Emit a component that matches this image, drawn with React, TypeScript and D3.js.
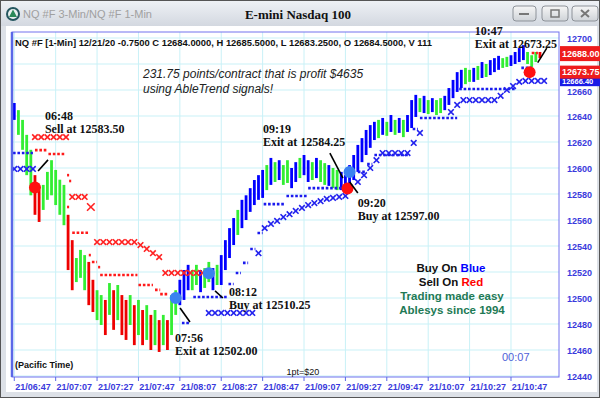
import React from 'react';
import * as d3 from 'd3';

// 2-minute samples of the 1-min bars, minutes counted from 06:47
const barStart = -9;
const barStep = 2;
const barHigh = [
  12650, 12644.5, 12637, 12625.5, 12614, 12594.5, 12583, 12587, 12597, 12606,
  12598.5, 12591, 12587, 12564, 12544.5, 12530.75, 12537, 12533, 12527.75, 12514,
  12506, 12502.25, 12498.5, 12511.5, 12506, 12510, 12502.25, 12498.5, 12502.25, 12494.5,
  12498.5, 12490.75, 12494.5, 12487, 12490.75, 12483, 12487, 12483, 12502.25, 12506,
  12514, 12521.5, 12525.5, 12521.5, 12525.5, 12521.5, 12523, 12527.75, 12523, 12525.5,
  12533, 12544.5, 12553.75, 12561.5, 12567.75, 12575.5, 12579, 12584.5, 12590.75, 12594.5,
  12598.5, 12602.25, 12607.75, 12604.5, 12606, 12602.25, 12606, 12600, 12604.5, 12607.75,
  12610, 12606, 12604.5, 12607.75, 12606, 12603.75, 12602.25, 12600, 12598.5, 12597,
  12594.5, 12602.25, 12610, 12617.75, 12623, 12629.25, 12633, 12635.5, 12637, 12638.5,
  12635.5, 12640.75, 12637, 12638.5, 12637, 12640.75, 12652.25, 12656.25, 12653.75, 12655.5,
  12652.25, 12653.75, 12652.25, 12653.75, 12655.5, 12661.5, 12667.75, 12673.75, 12675.5, 12677,
  12675.5, 12677, 12678.5, 12681.5, 12680, 12683, 12684.5, 12686.25, 12684.5, 12685.5,
  12686.75, 12689.25, 12692.25, 12694.5, 12689.25, 12686.75, 12689.25, 12689.25,
];
const barLow = [
  12637, 12625.5, 12614, 12594.5, 12579, 12564, 12558.5, 12567.75, 12575.5, 12579,
  12571.5, 12564, 12556, 12521.5, 12506, 12512.25, 12515.5, 12506, 12494.5, 12489.25,
  12483, 12479.25, 12471.5, 12487, 12475.5, 12483, 12471.5, 12467.75, 12479.25, 12463.75,
  12471.5, 12463.75, 12467.75, 12460, 12463.75, 12458.5, 12463.75, 12460, 12471.5, 12487,
  12494.5, 12498.5, 12506, 12506, 12510, 12504.5, 12507.75, 12512.25, 12506, 12510,
  12510, 12521.5, 12530.75, 12540.75, 12548.5, 12553.75, 12560, 12566.25, 12571.5, 12575.5,
  12577, 12583, 12587, 12589.25, 12590.75, 12587, 12588.5, 12584.5, 12589.25, 12592.25,
  12594.5, 12589.25, 12590.75, 12592.25, 12589.25, 12587, 12586.25, 12584.5, 12583, 12583,
  12581.5, 12583, 12590.75, 12597, 12604.5, 12610, 12615.5, 12621.5, 12623, 12625.5,
  12624.75, 12627.75, 12625.5, 12627, 12623.75, 12627.75, 12630.75, 12639.25, 12643, 12642.25,
  12641.5, 12643, 12640.75, 12642.25, 12644.5, 12648.5, 12653.75, 12658.5, 12661.5, 12664.5,
  12666.25, 12666.25, 12667.75, 12669.25, 12670, 12671.5, 12673.75, 12675.5, 12677, 12677.75,
  12678.5, 12680, 12681.5, 12683, 12680, 12677.75, 12681.5, 12684.5,
];
// b = blue (up trend), g = green (pause), r = red (down trend)
const barColor = [
  'b', 'gggg', 'rr', 'gggggg', 'rr', 'ggg', 'rr', 'gg', 'r', 'g', 'r', 'g', 'rr', 'g', 'r', 'g',
  'r', 'g', 'r', 'g', 'r', 'g', 'r', 'gg', 'bbb', 'gg', 'b', 'gg', 'b', 'g', 'bbbb', 'g', 'bbbbbb',
  'g', 'b', 'g', 'b', 'gg', 'bb', 'g', 'bb', 'g', 'b', 'gg', 'b', 'gg', 'bbbbbbbbb', 'g', 'b', 'g',
  'b', 'g', 'b', 'g', 'bbb', 'g', 'b', 'g', 'b', 'gg', 'bbbbb', 'gg', 'b', 'g', 'b', 'g', 'bbb',
  'gg', 'bbbb', 'ggg', 'r',
].join('');

// stop lines: [from minute, to minute, price]
const redStops = [
  [1, 7, 12613.75], [7.5, 15.5, 12610.75], [16.5, 17.5, 12594.5], [17.5, 18.5, 12590],
  [16.5, 17.5, 12570], [19, 27.5, 12550.25], [27, 28, 12533], [28.5, 31, 12527.75],
  [31.5, 32.5, 12523.75], [32.5, 50.5, 12517.75], [51, 58, 12510], [59, 61.5, 12506.25],
  [61.5, 65, 12503], [241, 244, 12688.5],
];
const blueStops = [
  [-9.6, 0, 12611.5], [72, 76, 12480.75], [77.5, 94, 12500.75], [94.5, 97, 12510.75],
  [98, 100.5, 12519.25], [101.5, 104, 12527], [105, 107.5, 12537.75], [108.5, 111, 12550],
  [111.5, 122, 12572.25], [122.5, 132.5, 12578.5], [133, 151, 12584.5], [157, 161, 12597],
  [161.5, 164, 12603], [165, 182, 12610], [183.5, 186, 12630], [187, 205, 12638.5],
  [206, 233, 12660.75], [236, 241, 12677],
];
// 3-min trailing stops: [minute, price]
const redX = [
  [1, 12623.75], [4, 12623.75], [7, 12623.75], [10, 12623.75], [13, 12623.75], [16, 12623.75],
  [19, 12577.75], [22, 12577.75], [25, 12577.75], [28, 12570],
  [31, 12543], [34, 12543], [37, 12543], [40, 12543], [43, 12543], [46, 12543], [49, 12543],
  [52, 12540.75], [55, 12537.75], [58, 12534.5], [61, 12531.5],
  [64, 12519.25], [67, 12519.25], [70, 12519.25], [73, 12519.25], [76, 12519.25], [79, 12519.25], [82, 12519.25],
];
const blueX = [
  [-9, 12599.25], [-6, 12599.25], [-3, 12599.25], [0, 12599.25],
  [85, 12488.5], [88, 12488.5], [91, 12488.5], [94, 12488.5], [97, 12488.5], [100, 12488.5], [103, 12488.5], [106, 12488.5],
  [109, 12534.5], [112, 12553.75], [115, 12557], [118, 12559.25], [121, 12562.25], [124, 12564.5],
  [127, 12567], [130, 12569.25], [133, 12571.5], [136, 12573], [139, 12574.5], [142, 12576.25],
  [145, 12577], [148, 12577.75], [151, 12578.5],
  [157, 12589.25], [160, 12594.5], [163, 12600], [166, 12606],
  [169, 12611.5], [172, 12611.5], [175, 12611.5], [178, 12611.5], [181, 12611.5], [184, 12619.25], [187, 12627],
  [202, 12643], [205, 12648.5], [208, 12652.25], [211, 12652.25], [214, 12652.25], [217, 12652.25],
  [220, 12652.25], [223, 12652.25], [226, 12655.5], [229, 12660], [232, 12663], [235, 12666.25],
  [238, 12667], [241, 12667], [244, 12667], [247, 12667],
];
const sellDots = [[1, 12585], [152, 12584.25], [240, 12673.75]];
const buyDots = [[69, 12500], [85, 12519], [153, 12597]];

const timeTicks = [0, 20, 40, 60, 80, 100, 120, 140, 160, 180, 200, 220, 240];
const timeLabels = [
  '21/06:47', '21/07:07', '21/07:27', '21/07:47', '21/08:07', '21/08:27', '21/08:47',
  '21/09:07', '21/09:27', '21/09:47', '21/10:07', '21/10:27', '21/10:47',
];
const priceTicks = [12440, 12460, 12480, 12500, 12520, 12540, 12560, 12580, 12600, 12620, 12640, 12660, 12680, 12700];
// labels hidden behind the price tags
const hiddenLabels = [12680];

const notes = [
  { time: '06:48', label: 'Sell at 12583.50', at: [5.8, 12637], line: [[7.3, 12606.25], [2.5, 12597.75]] },
  { time: '07:56', label: 'Exit at 12502.00', at: [68.7, 12466], line: [[71.1, 12492.25], [75.9, 12481.5]] },
  { time: '08:12', label: 'Buy at 12510.25', at: [94.7, 12501.5], line: [[88, 12505.5], [91.8, 12500]] },
  { time: '09:19', label: 'Exit at 12584.25', at: [111.2, 12627], line: [[143.5, 12611.5], [149.8, 12592.25]] },
  { time: '09:20', label: 'Buy at 12597.00', at: [157, 12570], line: [[153.1, 12589.25], [157, 12580.75]] },
  { time: '10:47', label: 'Exit at 12673.25', at: [213.5, 12702.25], line: [[243.9, 12681], [248.3, 12692.25]] },
];

const priceTags = [
  { price: 12666.4, text: '12666.40', fill: '#1a1ae6', h: 9, fs: 7.5 },
  { price: 12688, text: '12688.00', fill: '#ee1c1c', h: 15, fs: 9 },
  { price: 12673.75, text: '12673.75', fill: '#ee1c1c', h: 13, fs: 9 },
];

const barFill = { b: '#0000ff', g: '#33ee33', r: '#ee0000' };
const sans = "'Liberation Sans', Arial, sans-serif";
const serif = "'Liberation Serif', 'Times New Roman', serif";

const cross = (cx, cy, s) => `M${cx - s},${cy - s}L${cx + s},${cy + s}M${cx + s},${cy - s}L${cx - s},${cy + s}`;

export default function App() {
  const x = d3.scaleLinear().domain([-10.1, 254.2]).range([12, 559]);
  const y = d3.scaleLinear().domain([12440, 12700]).range([376, 38]);
  const plot = { left: 12, top: 32, right: 559, bottom: 377 };

  return (
    <svg width={600} height={398} style={{ position: 'absolute', left: 0, top: 0 }}>
      <defs>
        <linearGradient id="ttl" x1="0" y1="0" x2="0" y2="1">
          <stop offset="0" stopColor="#eef1f5" />
          <stop offset="1" stopColor="#d3d8e0" />
        </linearGradient>
        <linearGradient id="btn" x1="0" y1="0" x2="0" y2="1">
          <stop offset="0" stopColor="#f6f6f6" />
          <stop offset="1" stopColor="#cfd3d8" />
        </linearGradient>
        <clipPath id="plotClip">
          <rect x={plot.left} y={plot.top} width={plot.right - plot.left} height={plot.bottom - plot.top} />
        </clipPath>
      </defs>

      {/* window chrome */}
      <rect x={0.5} y={0.5} width={599} height={397} fill="#dde1e7" stroke="#555" />
      <rect x={1} y={1} width={598} height={25} fill="url(#ttl)" />
      <rect x={6} y={26} width={591} height={366} fill="#fff" />
      <circle cx={13} cy={14} r={7} fill="#24565f" />
      <circle cx={13} cy={14} r={5} fill="#e8f0f0" />
      <path d="M13,9.5L17,17H9Z" fill="#2a8a5a" />
      <text x={23} y={18} fontFamily={sans} fontSize={11} fill="#a0a0a0">NQ #F 3-Min/NQ #F 1-Min</text>
      <text x={298} y={19} textAnchor="middle" fontFamily={serif} fontSize={13} fontWeight="bold" fill="#111">E-mini Nasdaq 100</text>
      {[[513, 23], [542, 26], [572, 26]].map(([bx, bw], i) => (
        <rect key={i} x={bx} y={6} width={bw} height={15} rx={3} fill="url(#btn)" stroke="#8d9299" />
      ))}
      <rect x={519} y={13} width={10} height={2} fill="#777" />
      <rect x={551} y={10} width={8} height={7} fill="none" stroke="#777" strokeWidth={1.5} />
      <path d="M581,10L589,17M589,10L581,17" stroke="#777" strokeWidth={2} />

      {/* grid */}
      {priceTicks.map(p => (
        <line key={p} x1={plot.left} x2={plot.right} y1={y(p)} y2={y(p)} stroke="#c9f1f7" />
      ))}
      {timeTicks.map(m => (
        <line key={m} x1={x(m - 9)} x2={x(m - 9)} y1={plot.top} y2={plot.bottom} stroke="#c9f1f7" />
      ))}

      <g clipPath="url(#plotClip)">
        {/* price bars */}
        {barHigh.map((hi, i) => {
          const cx = x(barStart + i * barStep);
          return (
            <rect key={i} x={cx - 1.4} width={2.8} y={y(hi)} height={Math.max(1, y(barLow[i]) - y(hi))}
              fill={barFill[barColor[i]] || '#0000ff'} />
          );
        })}
        {/* stop lines */}
        {redStops.map(([a, b, p], i) => (
          <line key={'rs' + i} x1={x(a)} x2={x(b)} y1={y(p)} y2={y(p)} stroke="#ff1a1a" strokeWidth={2.6} strokeDasharray="2.6,1.8" />
        ))}
        {blueStops.map(([a, b, p], i) => (
          <line key={'bs' + i} x1={x(a)} x2={x(b)} y1={y(p)} y2={y(p)} stroke="#1a1aee" strokeWidth={2.6} strokeDasharray="2.6,1.8" />
        ))}
        {redX.map(([m, p], i) => (
          <path key={'rx' + i} d={cross(x(m), y(p), i === 9 ? 3.8 : 2.8)} stroke="#ff2222" strokeWidth={1.6} fill="none" />
        ))}
        {blueX.map(([m, p], i) => (
          <path key={'bx' + i} d={cross(x(m), y(p), 2.8)} stroke="#2222ee" strokeWidth={1.6} fill="none" />
        ))}
        {sellDots.map(([m, p], i) => (
          <circle key={'sd' + i} cx={x(m)} cy={y(p)} r={6} fill="#ff1010" />
        ))}
        {buyDots.map(([m, p], i) => (
          <circle key={'bd' + i} cx={x(m)} cy={y(p)} r={6} fill="#3b82f0" />
        ))}
      </g>

      {/* plot frame */}
      <rect x={plot.left} y={plot.top} width={plot.right - plot.left} height={plot.bottom - plot.top}
        fill="none" stroke="#7272ee" />
      <line x1={plot.left} x2={plot.left} y1={plot.top} y2={plot.bottom} stroke="#5a68e8" strokeWidth={2.5} />

      {/* axes */}
      {priceTicks.filter(p => !hiddenLabels.includes(p)).map(p => (
        <text key={p} x={567} y={y(p) + (p === 12660 ? 4.5 : 3.5)} fontFamily={sans} fontSize={9} fontWeight="bold" fill="#3a3adc">{p}</text>
      ))}
      {timeTicks.map((m, i) => (
        <g key={m}>
          <line x1={x(m - 9)} x2={x(m - 9)} y1={plot.bottom} y2={plot.bottom + 4} stroke="#5a68e8" />
          <text x={x(m)} y={390} textAnchor="middle" fontFamily={sans} fontSize={9} fontWeight="bold" fill="#3a3adc">{timeLabels[i]}</text>
        </g>
      ))}

      {/* price tags on the right */}
      {priceTags.map((t, i) => (
        <g key={i}>
          <rect x={560} y={y(t.price) - t.h / 2} width={40} height={t.h} fill={t.fill} />
          <text x={562} y={y(t.price) + t.fs * 0.36} fontFamily={sans} fontSize={t.fs} fontWeight="bold" fill="#fff">{t.text}</text>
        </g>
      ))}

      {/* header */}
      <text x={15} y={46} fontFamily={sans} fontSize={8.6} fontWeight="bold" fill="#111" textLength={417} lengthAdjust="spacingAndGlyphs">
        NQ #F [1-Min] 12/21/20 -0.7500 C 12684.0000, H 12685.5000, L 12683.2500, O 12684.5000, V 111
      </text>
      <text x={143} y={78} fontFamily={sans} fontSize={12} fontStyle="italic" fill="#222">231.75 points/contract that is profit $4635</text>
      <text x={143} y={93} fontFamily={sans} fontSize={12} fontStyle="italic" fill="#222">using AbleTrend signals!</text>

      {/* trade notes */}
      {notes.map((n, i) => (
        <g key={i}>
          <line x1={x(n.line[0][0])} y1={y(n.line[0][1])} x2={x(n.line[1][0])} y2={y(n.line[1][1])} stroke="#000" strokeWidth={1.6} />
          <text x={x(n.at[0])} y={y(n.at[1])} fontFamily={serif} fontSize={12} fontWeight="bold" fill="#111">{n.time}</text>
          <text x={x(n.at[0])} y={y(n.at[1]) + 13} fontFamily={serif} fontSize={12} fontWeight="bold" fill="#111">{n.label}</text>
        </g>
      ))}

      {/* legend */}
      <g fontFamily={sans} fontSize={11.5} fontWeight="bold" textAnchor="middle">
        <text x={451} y={272} fill="#111">Buy On <tspan fill="#0000ff">Blue</tspan></text>
        <text x={451} y={286} fill="#111">Sell On <tspan fill="#ff0000">Red</tspan></text>
        <text x={452} y={300} fill="#1e7a55">Trading made easy</text>
        <text x={452} y={314} fill="#1e7a55">Ablesys since 1994</text>
      </g>

      <text x={15} y={368} fontFamily={sans} fontSize={9} fontWeight="bold" fill="#111">(Pacific Time)</text>
      <text x={502} y={361} fontFamily={sans} fontSize={11} fill="#5060d8">00:07</text>
      <text x={303} y={375} textAnchor="middle" fontFamily={sans} fontSize={9} fill="#111">1pt=$20</text>
    </svg>
  );
}
